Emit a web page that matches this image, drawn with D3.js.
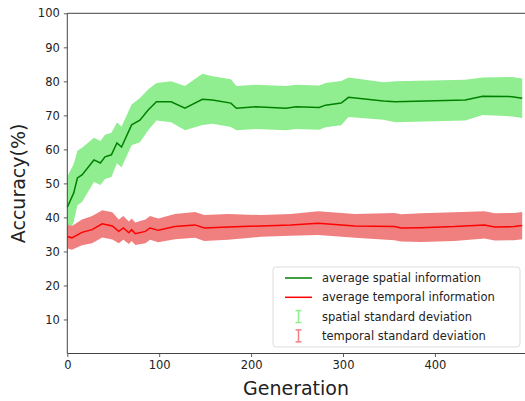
<!DOCTYPE html>
<html>
<head>
<meta charset="utf-8">
<script src="https://cdn.jsdelivr.net/npm/d3@7"></script>
<style>
  body { margin: 0; background: #fff; }
  svg { display: block; font-family: "DejaVu Sans", sans-serif; }
</style>
</head>
<body>
<div id="chart"></div>
<script>
// spatial (green) series
var spatialGen  = [0, 7, 11, 16, 29, 36, 41, 48, 54, 59, 70, 79, 88, 97, 113, 128, 147, 158, 178, 184, 205, 238, 249, 274, 281, 298, 306, 344, 357, 433, 452, 484, 495];
var spatialMean = [43, 47.2, 51.6, 52.5, 56.9, 56, 57.8, 58.4, 61.9, 60.7, 67.2, 68.6, 71.6, 74, 74, 72.1, 74.7, 74.5, 73.6, 72.1, 72.5, 72.1, 72.5, 72.3, 73, 73.6, 75.3, 74.2, 74, 74.5, 75.6, 75.5, 75];
var spatialStd  = [9, 8.5, 8, 8, 6.5, 6.5, 6.5, 6.5, 6, 6, 6, 6.5, 6, 5.5, 6, 6.5, 7.5, 7, 7, 6.5, 6.5, 6.5, 6.5, 6.5, 6.5, 6.5, 5.8, 5.5, 6, 6, 5.5, 5.8, 5.8];

// temporal (red) series
var temporalGen  = [0, 5, 16, 27, 38, 49, 56, 61, 67, 70, 74, 85, 90, 99, 117, 139, 149, 175, 211, 243, 273, 313, 356, 363, 385, 421, 454, 465, 486, 495];
var temporalMean = [34.4, 34, 35.6, 36.4, 38.1, 37.5, 35.9, 36.9, 35.5, 36.4, 35.2, 35.9, 36.9, 36.2, 37.3, 37.8, 36.9, 37.2, 37.5, 37.8, 38.3, 37.5, 37.3, 36.9, 37, 37.3, 37.8, 37.2, 37.3, 37.6];
var temporalStd  = [3.5, 3.5, 3.8, 4, 4, 4, 3.5, 3.5, 3.3, 3.3, 3.3, 3.5, 3.5, 3.5, 3.7, 3.8, 3.8, 3.8, 3.2, 3.2, 3.5, 3.5, 4, 4, 4.2, 4.2, 4, 4, 4, 4];

var xTicks = [0, 100, 200, 300, 400];
var yTicks = [10, 20, 30, 40, 50, 60, 70, 80, 90, 100];

var legendItems = [
  { label: 'average spatial information',  kind: 'line', color: 'green' },
  { label: 'average temporal information', kind: 'line', color: 'red' },
  { label: 'spatial standard deviation',   kind: 'bar',  color: 'lightgreen' },
  { label: 'temporal standard deviation',  kind: 'bar',  color: 'lightcoral' }
];

(function() {
  var width = 525, height = 401;
  var mLeft = 67.3, mTop = 13.3, mBottom = 353.5;

  var svg = d3.select('#chart').append('svg')
    .attr('width', width).attr('height', height);

  var x = d3.scaleLinear().domain([0, 500]).range([mLeft, mLeft + 459.5]);
  var y = d3.scaleLinear().domain([0, 100]).range([mBottom, mTop]);

  function rows(gen, mean, std) {
    return gen.map(function(g, i) { return { g: g, m: mean[i], s: std[i] }; });
  }
  var spatial = rows(spatialGen, spatialMean, spatialStd);
  var temporal = rows(temporalGen, temporalMean, temporalStd);

  var band = d3.area()
    .x(function(d) { return x(d.g); })
    .y0(function(d) { return y(d.m - d.s); })
    .y1(function(d) { return y(d.m + d.s); });

  var line = d3.line()
    .x(function(d) { return x(d.g); })
    .y(function(d) { return y(d.m); });

  // std bands first, then the mean lines
  svg.append('path').attr('d', band(spatial)).attr('fill', 'lightgreen');
  svg.append('path').attr('d', band(temporal)).attr('fill', 'lightcoral');
  svg.append('path').attr('d', line(spatial)).attr('fill', 'none')
    .attr('stroke', 'green').attr('stroke-width', 1.5);
  svg.append('path').attr('d', line(temporal)).attr('fill', 'none')
    .attr('stroke', 'red').attr('stroke-width', 1.5);

  // axes
  var xAxis = d3.axisBottom(x).tickValues(xTicks).tickSize(3.5).tickPadding(4);
  var yAxis = d3.axisLeft(y).tickValues(yTicks).tickSize(3.5).tickPadding(4);

  var gx = svg.append('g').attr('transform', 'translate(0,' + mBottom + ')').call(xAxis);
  var gy = svg.append('g').attr('transform', 'translate(' + mLeft + ',0)').call(yAxis);
  [gx, gy].forEach(function(g) {
    g.select('.domain').remove();
    g.selectAll('line').attr('stroke', '#333').attr('stroke-width', 0.8);
    g.selectAll('text').attr('fill', '#222').style('font-size', '11.5px')
      .style('font-family', '"DejaVu Sans", sans-serif');
  });

  // spines
  svg.append('line').attr('x1', mLeft).attr('x2', mLeft).attr('y1', mTop).attr('y2', mBottom)
    .attr('stroke', '#444').attr('stroke-width', 1);
  svg.append('line').attr('x1', mLeft).attr('x2', width).attr('y1', mBottom).attr('y2', mBottom)
    .attr('stroke', '#444').attr('stroke-width', 1);
  svg.append('line').attr('x1', mLeft).attr('x2', width).attr('y1', mTop).attr('y2', mTop)
    .attr('stroke', '#444').attr('stroke-width', 1);

  // axis titles
  svg.append('text').attr('x', 296).attr('y', 395).attr('text-anchor', 'middle')
    .style('font-size', '19px').attr('fill', '#222').text('Generation');
  svg.append('text').attr('transform', 'translate(25,' + (mTop + mBottom) / 2 + ') rotate(-90)')
    .attr('text-anchor', 'middle').style('font-size', '19px').attr('fill', '#222')
    .text('Accuracy(%)');

  // legend
  var lg = svg.append('g').attr('transform', 'translate(273,267)');
  lg.append('rect').attr('width', 247).attr('height', 80).attr('rx', 3)
    .attr('fill', 'rgba(255,255,255,0.85)').attr('stroke', '#ddd');
  var item = lg.selectAll('.item').data(legendItems).enter().append('g')
    .attr('class', 'item')
    .attr('transform', function(d, i) { return 'translate(0,' + (11 + i * 19.3) + ')'; });
  item.filter(function(d) { return d.kind == 'line'; }).append('line')
    .attr('x1', 12).attr('x2', 39).attr('y1', 0).attr('y2', 0)
    .attr('stroke', function(d) { return d.color; }).attr('stroke-width', 1.5);
  var bar = item.filter(function(d) { return d.kind == 'bar'; });
  bar.append('line').attr('x1', 25.5).attr('x2', 25.5).attr('y1', -6).attr('y2', 6)
    .attr('stroke', function(d) { return d.color; }).attr('stroke-width', 1.5);
  bar.append('line').attr('x1', 22.5).attr('x2', 28.5).attr('y1', -6).attr('y2', -6)
    .attr('stroke', function(d) { return d.color; }).attr('stroke-width', 1.5);
  bar.append('line').attr('x1', 22.5).attr('x2', 28.5).attr('y1', 6).attr('y2', 6)
    .attr('stroke', function(d) { return d.color; }).attr('stroke-width', 1.5);
  item.append('text').attr('x', 49).attr('y', 4).style('font-size', '11.5px')
    .attr('fill', '#222').text(function(d) { return d.label; });
})();
</script>
</body>
</html>
